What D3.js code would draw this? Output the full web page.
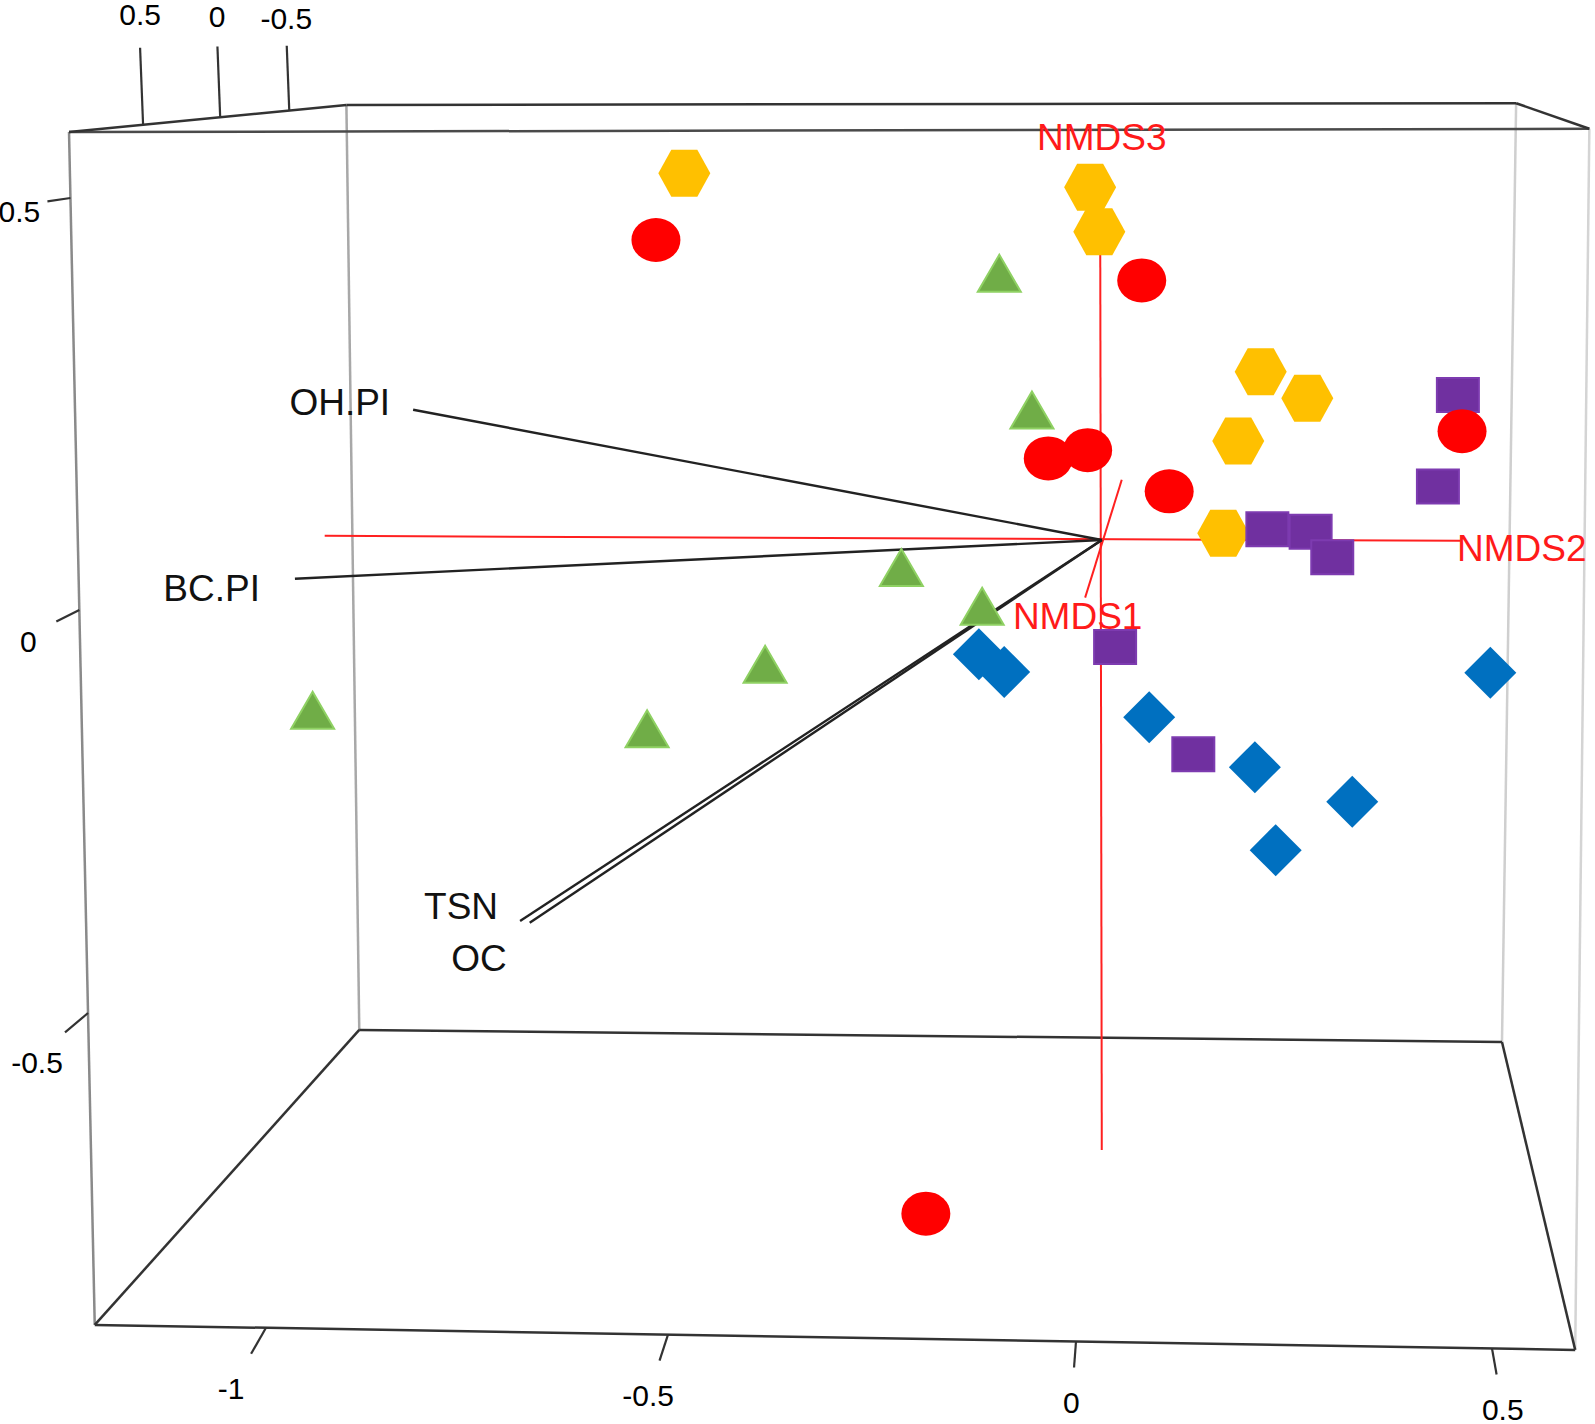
<!DOCTYPE html>
<html>
<head>
<meta charset="utf-8">
<script src="https://cdn.jsdelivr.net/npm/d3@7"></script>
<style>
  body { margin: 0; background: #fff; }
  text { font-family: "Liberation Sans", Arial, sans-serif; }
</style>
</head>
<body>
<div id="chart"></div>
<script>
// projected positions of the samples in axis units
var hexX = [-0.480, 0.017, 0.028, 0.222, 0.278, 0.195, 0.177]
var hexY = [0.530, 0.513, 0.459, 0.289, 0.257, 0.205, 0.093]
var circleX = [-0.515, 0.079, 0.464, -0.034, 0.014, 0.112, -0.184]
var circleY = [0.449, 0.400, 0.217, 0.184, 0.194, 0.144, -0.749]
var triX = [-0.094, -0.054, -0.214, -0.115, -0.381, -0.942, -0.526]
var triY = [0.408, 0.242, 0.051, 0.004, -0.068, -0.125, -0.148]
var squareX = [0.459, 0.435, 0.230, 0.282, 0.308, 0.047, 0.141]
var squareY = [0.261, 0.150, 0.098, 0.095, 0.064, -0.046, -0.179]
var diamondX = [-0.119, -0.088, 0.088, 0.498, 0.215, 0.332, 0.240]
var diamondY = [-0.055, -0.077, -0.133, -0.078, -0.195, -0.238, -0.298]

// fitted environmental vectors
var vecNames = ["OH.PI", "BC.PI", "TSN", "OC"]
var vecX = [-0.817, -0.964, -0.684, -0.672]
var vecY = [0.243, 0.038, -0.386, -0.388]
var origin = [0.031, 0.085]

// ordination axes drawn through the origin
var axisNames = ["NMDS1", "NMDS2", "NMDS3"]
var axisFrom = [[0.055, 0.158], [-0.927, 0.090], [0.029, 0.526]]
var axisTo = [[0.011, 0.015], [0.462, 0.084], [0.031, -0.670]]
var axisLabelX = [0.002, 0.458, 0.031]
var axisLabelY = [-0.007, 0.075, 0.574]

// tick labels of the box
var bottomTicks = [-1, -0.5, 0, 0.5]
var leftTicks = [0.5, 0, -0.5]
var depthTicks = [0.5, 0, -0.5]

var width = 1595
var height = 1424

var x = d3.scaleLinear().domain([-1, -0.5, 0, 0.5]).range([266, 668, 1076, 1492])
var y = d3.scaleLinear().domain([0.5, 0, -0.5]).range([198, 610, 1013])
var depthFrac = d3.scaleLinear().domain([0.5, 0, -0.5]).range([0.267, 0.545, 0.794])
var persp = d3.scaleLinear().domain([0.5, -0.5]).range([1, 0.84])

function px(p) { return [x(p[0]), y(p[1])] }

// box corners (front/back, top/bottom, left/right) in axis units
var box = {
  ftl: [-1.245, 0.580], ftr: [0.617, 0.584], fbl: [-1.213, -0.887], fbr: [0.600, -0.918],
  btl: [-0.900, 0.613], btr: [0.529, 0.615], bbl: [-0.884, -0.521], bbr: [0.512, -0.536]
}
var edges = [
  ["ftl", "fbl", "#8a8a8a"], ["btl", "bbl", "#a8a8a8"], ["btr", "bbr", "#cfcfcf"], ["ftr", "fbr", "#d4d4d4"],
  ["ftl", "ftr", "#4a4a4a"], ["btl", "btr", "#333"], ["ftl", "btl", "#333"], ["btr", "ftr", "#333"],
  ["fbl", "fbr", "#333"], ["bbl", "bbr", "#333"], ["fbl", "bbl", "#333"], ["fbr", "bbr", "#333"]
]

var svg = d3.select("#chart").append("svg")
  .attr("width", width)
  .attr("height", height)

svg.append("g").selectAll("line")
  .data(edges)
  .enter()
  .append("line")
  .attr("x1", function (d) { return px(box[d[0]])[0] })
  .attr("y1", function (d) { return px(box[d[0]])[1] })
  .attr("x2", function (d) { return px(box[d[1]])[0] })
  .attr("y2", function (d) { return px(box[d[1]])[1] })
  .attr("stroke", function (d) { return d[2] })
  .attr("stroke-width", 2.5)

// bottom axis (NMDS2), ticks leaning away from the viewer
var fbl = px(box.fbl), fbr = px(box.fbr)
var vpBottom = [1200, -300]
var bottomAxis = svg.append("g")
bottomTicks.forEach(function (v) {
  var bx = x(v)
  var by = fbl[1] + (bx - fbl[0]) / (fbr[0] - fbl[0]) * (fbr[1] - fbl[1])
  var lean = (bx - vpBottom[0]) / (by - vpBottom[1])
  bottomAxis.append("line")
    .attr("x1", bx).attr("y1", by)
    .attr("x2", bx + lean * 26).attr("y2", by + 26)
    .attr("stroke", "#333").attr("stroke-width", 2.2)
  bottomAxis.append("text")
    .attr("x", bx + lean * 61).attr("y", by + 61)
    .attr("dy", "0.35em")
    .attr("text-anchor", "middle")
    .style("font-size", "30px")
    .text(v)
})

// left axis (NMDS3)
var ftl = px(box.ftl)
var leftAxis = svg.append("g")
leftTicks.forEach(function (v) {
  var by = y(v)
  var bx = ftl[0] + (by - ftl[1]) / (fbl[1] - ftl[1]) * (fbl[0] - ftl[0])
  var slope = (by - 23) / (1260 - bx)
  leftAxis.append("line")
    .attr("x1", bx).attr("y1", by)
    .attr("x2", bx - 23).attr("y2", by + 23 * slope)
    .attr("stroke", "#333").attr("stroke-width", 2.2)
  leftAxis.append("text")
    .attr("x", bx - 51).attr("y", by + 51 * slope + 6)
    .attr("dy", "0.35em")
    .attr("text-anchor", "middle")
    .style("font-size", "30px")
    .text(v)
})

// depth axis (NMDS1) on the top left edge
var btl = px(box.btl)
var depthAxis = svg.append("g")
depthTicks.forEach(function (v) {
  var f = depthFrac(v), k = persp(v)
  var bx = ftl[0] + f * (btl[0] - ftl[0])
  var by = ftl[1] + f * (btl[1] - ftl[1])
  depthAxis.append("line")
    .attr("x1", bx).attr("y1", by)
    .attr("x2", bx - 3 * k).attr("y2", by - 77 * k)
    .attr("stroke", "#333").attr("stroke-width", 2.2)
  depthAxis.append("text")
    .attr("x", bx - 3).attr("y", by - 110 * k)
    .attr("dy", "0.35em")
    .attr("text-anchor", "middle")
    .style("font-size", "30px")
    .text(v)
})

// red ordination axes
svg.append("g").selectAll("line")
  .data(axisNames)
  .enter()
  .append("line")
  .attr("x1", function (d, i) { return x(axisFrom[i][0]) })
  .attr("y1", function (d, i) { return y(axisFrom[i][1]) })
  .attr("x2", function (d, i) { return x(axisTo[i][0]) })
  .attr("y2", function (d, i) { return y(axisTo[i][1]) })
  .attr("stroke", "#ff2020")
  .attr("stroke-width", 2)

// environmental vectors
var o = px(origin)
var labelOffset = { "OH.PI": [-23, -8], "BC.PI": [-35, 9], "TSN": [-22, -15], "OC": [-23, 35] }
svg.append("g").selectAll("line")
  .data(vecNames)
  .enter()
  .append("line")
  .attr("x1", o[0])
  .attr("y1", o[1])
  .attr("x2", function (d, i) { return x(vecX[i]) })
  .attr("y2", function (d, i) { return y(vecY[i]) })
  .attr("stroke", "#222")
  .attr("stroke-width", 2.4)

svg.append("g").selectAll("text")
  .data(vecNames)
  .enter()
  .append("text")
  .attr("x", function (d, i) { return x(vecX[i]) + labelOffset[d][0] })
  .attr("y", function (d, i) { return y(vecY[i]) + labelOffset[d][1] })
  .attr("dy", "0.35em")
  .attr("text-anchor", "end")
  .style("font-size", "37px")
  .attr("fill", "#111")
  .text(function (d) { return d })

// sample markers
function hexagon() { return "M-26,0L-13,-23.5L13,-23.5L26,0L13,23.5L-13,23.5Z" }
function square() { return "M-21,-17L21,-17L21,17L-21,17Z" }
function ellipse() { return "M-24.5,0A24.5,22 0 1,0 24.5,0A24.5,22 0 1,0 -24.5,0Z" }
function triangle() { return "M0,-19L21.5,18L-21.5,18Z" }
function diamond() { return "M0,-26L26,0L0,26L-26,0Z" }

var groups = [
  { xs: hexX, ys: hexY, shape: hexagon, fill: "#ffc000", stroke: "none" },
  { xs: squareX, ys: squareY, shape: square, fill: "#7030a0", stroke: "#7d3bb0" },
  { xs: circleX, ys: circleY, shape: ellipse, fill: "#ff0000", stroke: "none" },
  { xs: triX, ys: triY, shape: triangle, fill: "#70ad47", stroke: "#8fd163" },
  { xs: diamondX, ys: diamondY, shape: diamond, fill: "#0070c0", stroke: "none" }
]

groups.forEach(function (g) {
  svg.append("g").selectAll("path")
    .data(g.xs)
    .enter()
    .append("path")
    .attr("transform", function (d, i) { return "translate(" + x(d) + "," + y(g.ys[i]) + ")" })
    .attr("d", g.shape)
    .attr("fill", g.fill)
    .attr("stroke", g.stroke)
    .attr("stroke-width", 2)
})

// axis names on top
svg.append("g").selectAll("text")
  .data(axisNames)
  .enter()
  .append("text")
  .attr("x", function (d, i) { return x(axisLabelX[i]) })
  .attr("y", function (d, i) { return y(axisLabelY[i]) })
  .attr("dy", "0.35em")
  .attr("text-anchor", function (d) { return d == "NMDS2" ? "start" : "middle" })
  .style("font-size", "37px")
  .attr("fill", "#ff1a1a")
  .text(function (d) { return d })
</script>
</body>
</html>
